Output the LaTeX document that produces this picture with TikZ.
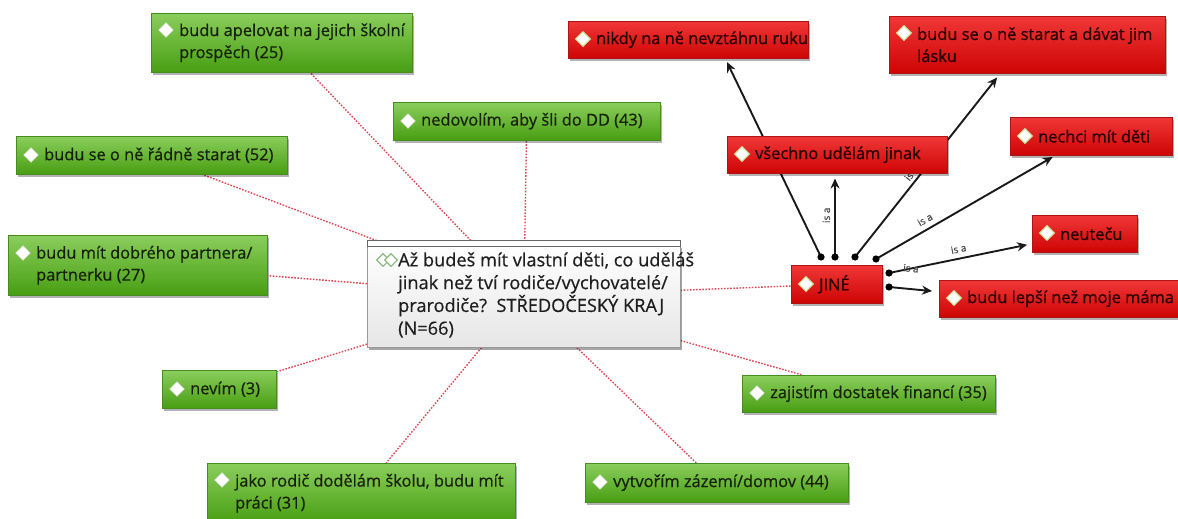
\documentclass[tikz,border=0pt]{standalone}
\usepackage{fontspec}
\setmainfont{Open Sans}[FakeBold=0.6]
\usetikzlibrary{shapes.geometric,shadows,arrows.meta,calc}
\definecolor{gtop}{RGB}{138,206,92}
\definecolor{gbot}{RGB}{72,158,18}
\definecolor{gedge}{RGB}{70,140,30}
\definecolor{rtop}{RGB}{240,55,55}
\definecolor{rbot}{RGB}{206,4,4}
\definecolor{redge}{RGB}{175,20,20}
\definecolor{dotred}{RGB}{222,72,84}
\definecolor{txtg}{RGB}{22,32,12}
\definecolor{txtr}{RGB}{38,0,0}
\definecolor{iconc}{RGB}{140,185,125}
\pgfdeclarelayer{bg}
\pgfdeclarelayer{edges}
\pgfsetlayers{bg,edges,main}
\tikzset{
 box/.style={rectangle, inner sep=0pt, anchor=north west,
   drop shadow={shadow xshift=2pt,shadow yshift=-2.5pt,fill=black,opacity=0.3}},
 gbox/.style={box, top color=gtop, bottom color=gbot, draw=gedge, line width=0.5pt},
 rbox/.style={box, top color=rtop, bottom color=rbot, draw=redge, line width=0.5pt},
 gtxt/.style={anchor=west, inner sep=0pt, align=left, text=txtg, font=\fontsize{16.4}{22}\selectfont},
 rtxt/.style={gtxt, text=txtr},
 gdia/.style={diamond, fill=white, draw=white!85!black, line width=0.4pt,
   minimum width=15pt, minimum height=15pt, inner sep=0pt},
 rdia/.style={gdia, draw={rgb,255:red,205;green,232;blue,160}, line width=1.3pt},
 dotline/.style={draw=dotred, line width=1.4pt, dash pattern=on 1.6pt off 1.5pt},
 isa/.style={-{Stealth[length=10pt,width=9pt]}, line width=1.9pt, draw=black!90},
 lbl/.style={font=\fontsize{10}{10}\selectfont, text=black!70, inner sep=1pt, sloped},
 qbox/.style={rectangle, inner sep=0pt, anchor=north west, top color=white,
   bottom color={rgb,255:red,230;green,230;blue,230}, draw=black!40, line width=0.6pt,
   drop shadow={shadow xshift=2pt,shadow yshift=-2.5pt,fill=black,opacity=0.35}},
 qbar/.style={rectangle, inner sep=0pt, anchor=north west, fill=white, draw=black!60, line width=0.7pt},
 qdia/.style={diamond, fill=white, draw=iconc, line width=1.1pt, minimum width=13pt,
   minimum height=13pt, inner sep=0pt}
}
\newcommand\mkbox[8]{%
 \node[#1box, minimum width=#5pt, minimum height=#6pt] (#2) at (#3,#4) {};
 \node[#1dia] (#2-i) at ([xshift=15pt,yshift=-#7pt]#2.north west) {};
 \node[#1txt] (#2-t) at ([xshift=28pt]#2.west) {#8};
}
\begin{document}
\begin{tikzpicture}[x=1pt,y=-1pt]
\useasboundingbox (0,0) rectangle (1178,519);
\begin{pgfonlayer}{bg}
\fill[white] (0,0) rectangle (1178,519);
\end{pgfonlayer}

% central question
\node[qbox, minimum width=313pt, minimum height=102pt] (q) at (367,245) {};
\node[qbar, minimum width=313pt, minimum height=6pt] (qbar) at (367,240) {};
\node[qdia] (qi1) at (383,260) {};
\node[qdia] (qi2) at (391,260) {};
\node[gtxt, text=black!88, font=\fontsize{18.2}{22.8}\selectfont] (qt) at (398,295) {Až budeš mít vlastní děti, co uděláš\\jinak než tví rodiče/vychovatelé/\\prarodiče?\ \ STŘEDOČESKÝ KRAJ\\(N=66)};

% green answers
\mkbox{g}{apel}{151}{13}{261}{59}{17}{budu apelovat na jejich školní\\prospěch (25)}
\mkbox{g}{nedov}{393}{102}{267}{38}{19}{nedovolím, aby šli do DD (43)}
\mkbox{g}{radne}{16}{136}{271}{38}{19}{budu se o ně řádně starat (52)}
\mkbox{g}{partn}{8}{235}{259}{60}{18}{budu mít dobrého partnera/\\partnerku (27)}
\mkbox{g}{nevim}{162}{370}{114}{38}{19}{nevím (3)}
\mkbox{g}{jako}{207}{463}{308}{60}{17}{jako rodič dodělám školu, budu mít\\práci (31)}
\mkbox{g}{vytv}{585}{463}{263}{39}{19}{vytvořím zázemí/domov (44)}
\mkbox{g}{zajis}{742}{375}{253}{37}{18}{zajistím dostatek financí (35)}

% red answers
\mkbox{r}{jine}{791}{265}{91}{38}{19}{JINÉ}
\mkbox{r}{nikdy}{568}{21}{240}{37}{18}{nikdy na ně nevztáhnu ruku}
\mkbox{r}{laska}{889}{16}{276}{57}{17}{budu se o ně starat a dávat jim\\lásku}
\mkbox{r}{vsech}{727}{136}{220}{37}{18}{všechno udělám jinak}
\mkbox{r}{nechci}{1010}{117}{162}{38}{19}{nechci mít děti}
\mkbox{r}{neutecu}{1032}{215}{105}{37}{18}{neuteču}
\mkbox{r}{lepsi}{939}{280}{240}{37}{18}{budu lepší než moje máma}

\coordinate (d1) at (821,257);
\coordinate (d2) at (835,257);
\coordinate (d3) at (855,257);
\coordinate (d4) at (876,259);
\coordinate (d5) at (889,273);
\coordinate (d6) at (889,287);

\begin{pgfonlayer}{edges}
\foreach \n in {apel,nedov,radne,partn,nevim,jako,vytv,zajis,jine}
  \draw[dotline] (q) -- (\n);
\draw[isa, shorten >=4pt] (d1) -- ([xshift=37pt]nikdy.south);
\draw[isa, shorten >=5pt] (d2) -- (d2 |- vsech.south) node[lbl, midway, above=3pt] {is a};
\draw[isa, shorten >=5pt] (d3) -- ([xshift=-27pt]laska.south) node[lbl, pos=0.43, above=2pt] {is a};
\draw[isa, shorten >=3pt] (d4) -- ([xshift=-36pt]nechci.south) node[lbl, pos=0.3, above=4pt] {is a};
\draw[isa, shorten >=5pt] (d5) -- ([yshift=-10pt]neutecu.west) node[lbl, midway, above=4pt] {is a};
\draw[isa, shorten >=7pt] (d6) -- ([yshift=7pt]lepsi.west) node[lbl, pos=0.4, above=15pt] {is a};
\foreach \d in {d1,d2,d3,d4,d5,d6}
  \fill[black] (\d) circle (3.6);
\end{pgfonlayer}
\end{tikzpicture}
\end{document}
